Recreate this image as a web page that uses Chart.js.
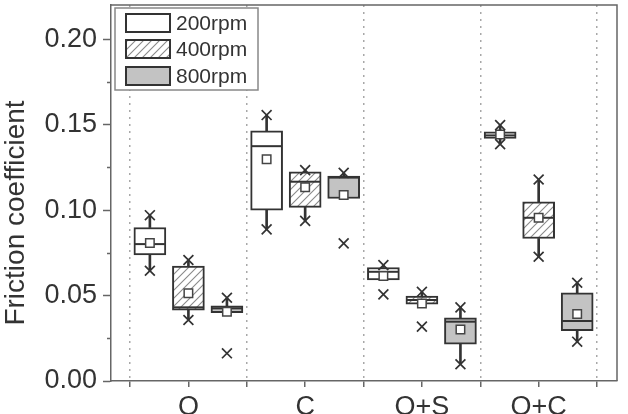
<!DOCTYPE html>
<html>
<head>
<meta charset="utf-8">
<script src="https://cdn.jsdelivr.net/npm/chart.js@4.4.1/dist/chart.umd.min.js"></script>
<style>
  html, body { margin: 0; padding: 0; background: #fff; }
  #wrap { width: 628px; height: 414px; position: relative; }
</style>
</head>
<body>
<div id="wrap"><canvas id="chart"></canvas></div>
<script>
// Categories and series
const groups = ['O', 'C', 'O+S', 'O+C'];
const speeds = ['200rpm', '400rpm', '800rpm'];

// One row per speed (200, 400, 800 rpm), one column per group
const q1 = [
  [0.0737, 0.1000, 0.0591, 0.1419],
  [0.0415, 0.1016, 0.0450, 0.0834],
  [0.0400, 0.1068, 0.0215, 0.0294]
];
const q3 = [
  [0.0898, 0.1464, 0.0664, 0.1458],
  [0.0673, 0.1224, 0.0497, 0.1049],
  [0.0440, 0.1199, 0.0370, 0.0516]
];
const median = [
  [0.0801, 0.1374, 0.0639, 0.1437],
  [0.0431, 0.1166, 0.0474, 0.0955],
  [0.0425, 0.1190, 0.0347, 0.0351]
];
const mean = [
  [0.0807, 0.1298, 0.0614, 0.1442],
  [0.0513, 0.1133, 0.0454, 0.0955],
  [0.0405, 0.1088, 0.0302, 0.0392]
];
const whiskerLow = [
  [0.0645, 0.0887, 0.0591, 0.1386],
  [0.0357, 0.0937, 0.0450, 0.0727],
  [0.0400, 0.1068, 0.0098, 0.0230]
];
const whiskerHigh = [
  [0.0970, 0.1556, 0.0678, 0.1497],
  [0.0708, 0.1234, 0.0522, 0.1179],
  [0.0487, 0.1218, 0.0431, 0.0575]
];
// the x marks (1% / 99%)
const markLow = [
  [0.0645, 0.0887, 0.0507, 0.1386],
  [0.0357, 0.0937, 0.0318, 0.0727],
  [0.0162, 0.0805, 0.0098, 0.0230]
];
const markHigh = [
  [0.0970, 0.1556, 0.0678, 0.1497],
  [0.0708, 0.1234, 0.0522, 0.1179],
  [0.0487, 0.1218, 0.0431, 0.0575]
];

const yTicks = [0, 0.05, 0.10, 0.15, 0.20];
const yMinorTicks = [0.025, 0.075, 0.125, 0.175];

const FONT = "'Liberation Sans', Arial, Helvetica, sans-serif";
const INK = '#333';
const offsets = [-0.33, 0, 0.33];

function hatchPattern() {
  const c = document.createElement('canvas');
  c.width = 8; c.height = 8;
  const g = c.getContext('2d');
  g.fillStyle = '#fff';
  g.fillRect(0, 0, 8, 8);
  g.strokeStyle = '#8a8a8a';
  g.lineWidth = 1.1;
  g.beginPath();
  g.moveTo(0, 8); g.lineTo(8, 0);
  g.moveTo(-2, 2); g.lineTo(2, -2);
  g.moveTo(6, 10); g.lineTo(10, 6);
  g.stroke();
  return document.getElementById('chart').getContext('2d').createPattern(c, 'repeat');
}

const fills = ['#ffffff', hatchPattern(), '#c3c3c3'];

const datasets = [];
speeds.forEach((label, s) => {
  const xs = groups.map((g, i) => i + 1 + offsets[s]);
  datasets.push({
    type: 'bar', label: label, order: 4, grouped: false,
    data: xs.map((x, i) => ({ x: x, y: [q1[s][i], q3[s][i]] })),
    backgroundColor: fills[s], borderColor: INK, borderWidth: 2,
    borderSkipped: false, barThickness: 32
  });
  datasets.push({
    type: 'bar', label: label + ' whiskers', order: 5, grouped: false,
    data: xs.map((x, i) => ({ x: x, y: [whiskerLow[s][i], q1[s][i]] }))
      .concat(xs.map((x, i) => ({ x: x, y: [q3[s][i], whiskerHigh[s][i]] }))),
    backgroundColor: INK, borderWidth: 0, barThickness: 2
  });
  datasets.push({
    type: 'scatter', label: label + ' median', order: 3,
    data: xs.map((x, i) => ({ x: x, y: median[s][i] })),
    pointStyle: 'line', pointRadius: 15, pointHoverRadius: 15,
    borderColor: INK, borderWidth: 2
  });
  datasets.push({
    type: 'scatter', label: label + ' mean', order: 2,
    data: xs.map((x, i) => ({ x: x, y: mean[s][i] })),
    pointStyle: 'rect', pointRadius: 6, pointHoverRadius: 6,
    backgroundColor: '#fff', borderColor: '#444', borderWidth: 1.5
  });
  datasets.push({
    type: 'scatter', label: label + ' marks', order: 1,
    data: xs.map((x, i) => ({ x: x, y: markLow[s][i] }))
      .concat(xs.map((x, i) => ({ x: x, y: markHigh[s][i] }))),
    pointStyle: 'crossRot', pointRadius: 7, pointHoverRadius: 7,
    borderColor: INK, borderWidth: 1.7
  });
});

// frame, minor ticks, axis title and legend
const decorations = {
  id: 'decorations',
  afterDraw(chart) {
    const ctx = chart.ctx;
    const a = chart.chartArea;
    const y = chart.scales.y;
    ctx.save();
    ctx.strokeStyle = '#666';
    ctx.lineWidth = 1.5;
    ctx.beginPath();
    ctx.moveTo(a.left, a.top);
    ctx.lineTo(a.right, a.top);
    ctx.lineTo(a.right, a.bottom);
    ctx.stroke();

    ctx.beginPath();
    yMinorTicks.forEach(v => {
      const py = Math.round(y.getPixelForValue(v)) + 0.5;
      ctx.moveTo(a.left - 4, py);
      ctx.lineTo(a.left, py);
    });
    ctx.stroke();

    ctx.fillStyle = INK;
    ctx.font = '28px ' + FONT;
    ctx.textAlign = 'center';
    ctx.textBaseline = 'middle';
    ctx.translate(16, 213);
    ctx.rotate(-Math.PI / 2);
    ctx.fillText('Friction coefficient', 0, 0);
    ctx.restore();

    // legend
    ctx.save();
    ctx.fillStyle = '#fff';
    ctx.fillRect(115, 8, 143, 82);
    ctx.strokeStyle = '#888';
    ctx.lineWidth = 1.5;
    ctx.strokeRect(115, 8, 143, 82);
    const rows = [14, 40, 67];
    speeds.forEach((label, s) => {
      ctx.fillStyle = fills[s];
      ctx.fillRect(126, rows[s], 44, 18);
      ctx.strokeStyle = INK;
      ctx.lineWidth = 2;
      ctx.strokeRect(126, rows[s], 44, 18);
      ctx.fillStyle = INK;
      ctx.font = '21px ' + FONT;
      ctx.textAlign = 'left';
      ctx.textBaseline = 'middle';
      ctx.fillText(label, 176, rows[s] + 10);
    });
    ctx.restore();
  }
};

new Chart(document.getElementById('chart'), {
  type: 'bar',
  data: { datasets: datasets },
  options: {
    responsive: true,
    maintainAspectRatio: false,
    animation: false,
    events: [],
    layout: { autoPadding: false, padding: { top: 5, right: 11, left: 0, bottom: 0 } },
    plugins: { legend: { display: false }, tooltip: { enabled: false } },
    scales: {
      x: {
        type: 'linear',
        offset: false,
        min: 0.337,
        max: 4.671,
        afterBuildTicks(scale) {
          scale.ticks = [0.5, 1, 1.5, 2, 2.5, 3, 3.5, 4, 4.5].map(v => ({ value: v }));
        },
        afterFit(scale) {
          scale.height = 33;
          scale.paddingLeft = 0;
          scale.paddingRight = 0;
        },
        ticks: {
          autoSkip: false,
          maxRotation: 0,
          padding: 4,
          color: INK,
          font: { family: FONT, size: 27 },
          callback: v => Number.isInteger(v) ? groups[v - 1] : ''
        },
        grid: {
          offset: false,
          color: c => (c.tick && !Number.isInteger(c.tick.value)) ? '#a8a8a8' : 'rgba(0,0,0,0)',
          lineWidth: 1.5,
          tickColor: '#666',
          tickLength: 6,
          tickWidth: 1.5
        },
        border: { color: '#666', width: 1.5, dash: [2, 5] }
      },
      y: {
        min: 0,
        max: 0.22,
        afterBuildTicks(scale) {
          scale.ticks = yTicks.map(v => ({ value: v }));
        },
        afterFit(scale) {
          scale.width = 111;
          scale.paddingTop = 0;
          scale.paddingBottom = 0;
        },
        ticks: {
          padding: 6,
          color: INK,
          font: { family: FONT, size: 27 },
          callback: v => v.toFixed(2)
        },
        grid: {
          drawOnChartArea: false,
          tickColor: '#666',
          tickLength: 8,
          tickWidth: 1.5
        },
        border: { color: '#666', width: 1.5 }
      }
    }
  },
  plugins: [decorations]
});
</script>
</body>
</html>
